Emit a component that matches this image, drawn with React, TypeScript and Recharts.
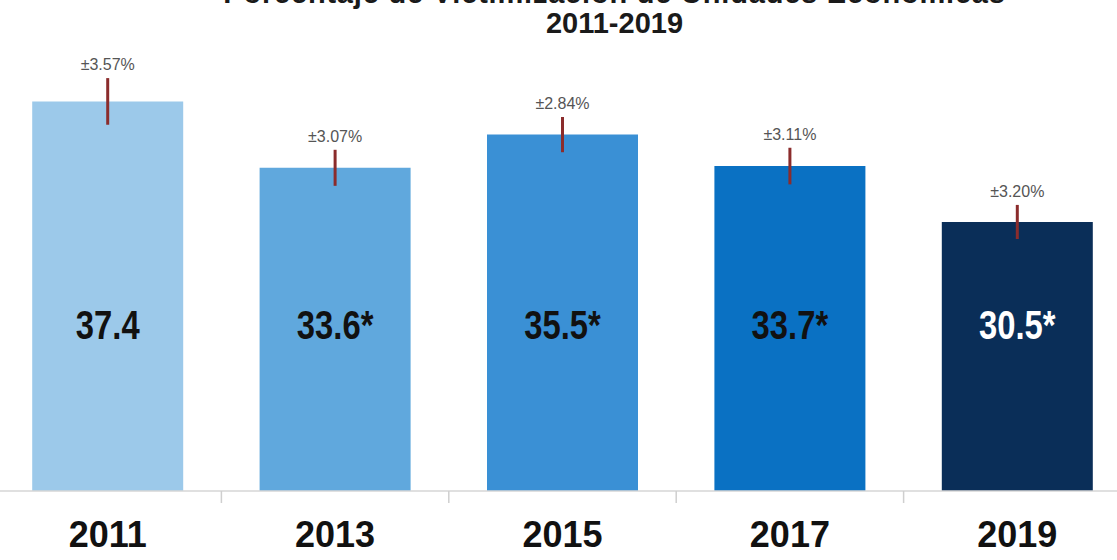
import React from 'react';
import { BarChart, Bar, XAxis, YAxis, ErrorBar, LabelList, Cell } from 'recharts';

const years = ['2011', '2013', '2015', '2017', '2019'];
const values = [37.4, 33.6, 35.5, 33.7, 30.5];
const valueLabels = ['37.4', '33.6*', '35.5*', '33.7*', '30.5*'];
const errorPct = [3.57, 3.07, 2.84, 3.11, 3.2];
const errorLabels = ['±3.57%', '±3.07%', '±2.84%', '±3.11%', '±3.20%'];

const BAR_COLORS = ['#9cc9ea', '#60a8dd', '#3a90d5', '#0a71c3', '#0a2e58'];
const LABEL_COLORS = ['#111', '#111', '#111', '#111', '#fff'];
const Y_MIN = 15.1;

const data = years.map((year, i) => ({
  year,
  value: values[i],
  err: (values[i] * errorPct[i]) / 100,
  label: valueLabels[i],
  errLabel: errorLabels[i],
}));

const FONT = '"Liberation Sans", Arial, sans-serif';

const ValueLabel = (props: any) => {
  const { x, y, width, height, index } = props;
  const cx = x + width / 2;
  const cy = y + height - 152;
  return (
    <text
      x={0}
      y={0}
      transform={`translate(${cx},${cy}) scale(0.82,1)`}
      textAnchor="middle"
      fontFamily={FONT}
      fontWeight="bold"
      fontSize={40}
      fill={LABEL_COLORS[index]}
    >
      {valueLabels[index]}
    </text>
  );
};

const ErrLabel = (props: any) => {
  const { x, y, width, height, index } = props;
  const pxPerUnit = height / (values[index] - Y_MIN);
  const errPx = data[index].err * pxPerUnit;
  return (
    <text
      x={x + width / 2}
      y={y - errPx - 8}
      textAnchor="middle"
      fontFamily={FONT}
      fontSize={16}
      fill="#555"
    >
      {errorLabels[index]}
    </text>
  );
};

const YearTick = (props: any) => {
  const { x, y, payload } = props;
  const half = payload && payload.offset ? payload.offset : 113.7;
  return (
    <g>
      <line x1={x + half} y1={y} x2={x + half} y2={y + 12} stroke="#cfcfcf" strokeWidth={1.5} />
      <text x={x} y={y + 56} textAnchor="middle" fontFamily={FONT} fontWeight="bold" fontSize={36} fill="#111">
        {payload.value}
      </text>
    </g>
  );
};

export default function App() {
  return (
    <div style={{ position: 'absolute', left: 0, top: 0, width: 1117, height: 560, overflow: 'hidden', background: '#fff' }}>
      <div
        style={{
          position: 'absolute',
          left: 0,
          width: 1117,
          top: -22,
          textAlign: 'center',
          fontFamily: FONT,
          fontWeight: 'bold',
          fontSize: 29,
          lineHeight: '30px',
          color: '#1a1a1a',
        }}
      >
        <div style={{ marginLeft: 112, letterSpacing: 0.8 }}>Porcentaje de Victimización de Unidades Económicas</div>
        <div style={{ marginLeft: 112 }}>2011-2019</div>
      </div>
      <div style={{ position: 'absolute', left: -6, top: 0 }}>
        <BarChart width={1137} height={560} data={data} margin={{ top: 56, right: 0, bottom: 0, left: 0 }} barCategoryGap="16.8%">
          <XAxis
            dataKey="year"
            height={69}
            tickSize={0}
            tickMargin={0}
            tickLine={false}
            axisLine={{ stroke: '#d6d6d6', strokeWidth: 1.5 }}
            tick={<YearTick />}
            interval={0}
          />
          <YAxis hide domain={[Y_MIN, 40]} allowDataOverflow />
          <Bar dataKey="value" isAnimationActive={false}>
            {data.map((d, i) => (
              <Cell key={`cell-${d.year}`} fill={BAR_COLORS[i]} />
            ))}
            <ErrorBar dataKey="err" width={0} stroke="#8b2c2c" strokeWidth={3} isAnimationActive={false} />
            <LabelList dataKey="label" content={<ValueLabel />} />
            <LabelList dataKey="errLabel" content={<ErrLabel />} />
          </Bar>
        </BarChart>
      </div>
    </div>
  );
}
